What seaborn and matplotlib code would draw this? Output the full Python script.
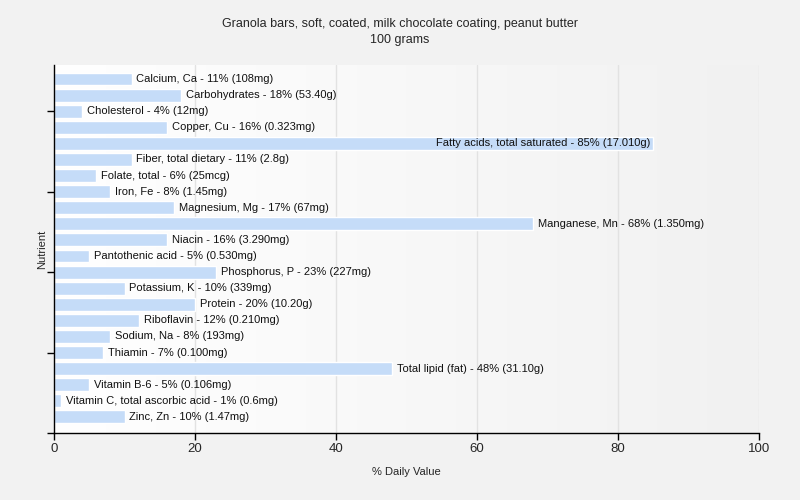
import numpy as np
import pandas as pd
import matplotlib
matplotlib.use("Agg")
import matplotlib.pyplot as plt
import seaborn as sns
from matplotlib.colors import LinearSegmentedColormap

# --- data ---
nutrients = [
    "Calcium, Ca", "Carbohydrates", "Cholesterol", "Copper, Cu",
    "Fatty acids, total saturated", "Fiber, total dietary", "Folate, total",
    "Iron, Fe", "Magnesium, Mg", "Manganese, Mn", "Niacin", "Pantothenic acid",
    "Phosphorus, P", "Potassium, K", "Protein", "Riboflavin", "Sodium, Na",
    "Thiamin", "Total lipid (fat)", "Vitamin B-6",
    "Vitamin C, total ascorbic acid", "Zinc, Zn",
]
daily_pct = [11, 18, 4, 16, 85, 11, 6, 8, 17, 68, 16, 5, 23, 10, 20, 12, 8, 7,
             48, 5, 1, 10]
amounts = ["108mg", "53.40g", "12mg", "0.323mg", "17.010g", "2.8g", "25mcg",
           "1.45mg", "67mg", "1.350mg", "3.290mg", "0.530mg", "227mg", "339mg",
           "10.20g", "0.210mg", "193mg", "0.100mg", "31.10g", "0.106mg",
           "0.6mg", "1.47mg"]

df = pd.DataFrame({"nutrient": nutrients, "pct": daily_pct, "amount": amounts})
df["label"] = df["nutrient"] + " - " + df["pct"].astype(str) + "% (" + df["amount"] + ")"

bg = "#f2f2f2"
bar_color = "#c5dcf8"

sns.set_style("white")
plt.rcParams["font.family"] = ["Liberation Sans", "DejaVu Sans"]

fig = plt.figure(figsize=(8, 5), dpi=100, facecolor=bg)
ax = fig.add_axes([54 / 800, 1 - 433 / 500, 705 / 800, 368 / 500])

y_top, y_bot = -0.87, 22.0

# gradient plot background
grad = np.linspace(0, 1, 256).reshape(1, -1)
cm = LinearSegmentedColormap.from_list("bg", ["#ffffff", "#f1f1f1"])
ax.imshow(grad, cmap=cm, aspect="auto", extent=[0, 100, y_bot, y_top], zorder=0)

sns.barplot(data=df, y="nutrient", x="pct", orient="h", color=bar_color,
            width=0.8, saturation=1, ax=ax, zorder=2)

for i, row in df.iterrows():
    if row["pct"] > 80:
        ax.text(row["pct"] - 0.4, i, row["label"], va="center", ha="right",
                fontsize=8, color="#111111", zorder=3)
    else:
        ax.text(row["pct"] + 0.7, i, row["label"], va="center", ha="left",
                fontsize=8, color="#111111", zorder=3)

ax.set_xlim(0, 100)
ax.set_ylim(y_bot, y_top)
ax.set_xticks([0, 20, 40, 60, 80, 100])
ax.set_xticklabels(["0", "20", "40", "60", "80", "100"], fontsize=9.5)
ax.set_yticks([2, 7, 12, 17, 22])
ax.set_yticklabels([])
for x in [20, 40, 60, 80, 100]:
    ax.axvline(x, color="#e2e2e2", lw=1, zorder=1)

ax.tick_params(axis="both", direction="out", length=5, width=1, color="black",
               bottom=True, left=True, pad=2)
for s in ["top", "right"]:
    ax.spines[s].set_visible(False)
for s in ["left", "bottom"]:
    ax.spines[s].set_color("black")
    ax.spines[s].set_linewidth(1)

ax.set_xlabel("% Daily Value", fontsize=8, labelpad=9)
ax.set_ylabel("Nutrient", fontsize=8, labelpad=-2)
fig.suptitle("Granola bars, soft, coated, milk chocolate coating, peanut butter\n100 grams",
             fontsize=9, y=0.965, x=0.5, linespacing=1.45)

fig.savefig("out.png", dpi=100, facecolor=bg)
